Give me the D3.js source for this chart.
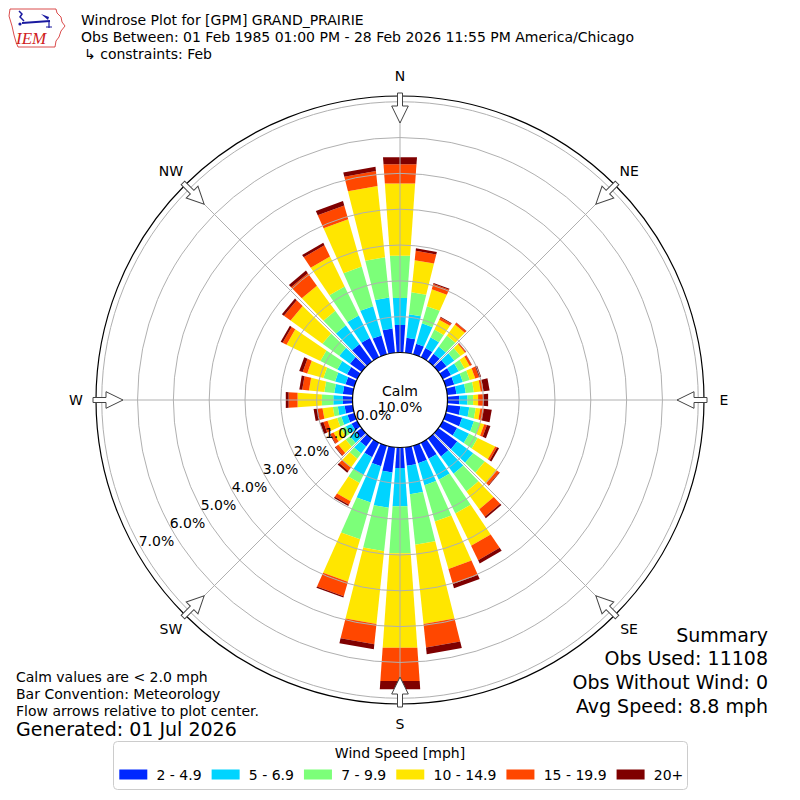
<!DOCTYPE html>
<html>
<head>
<meta charset="utf-8">
<script src="https://cdn.jsdelivr.net/npm/d3@7"></script>
<style>
  body { margin: 0; background: #fff; }
  text { font-family: "DejaVu Sans", sans-serif; fill: #000; }
</style>
</head>
<body>
<div id="windrose"></div>
<script>
// wind directions (degrees, meteorological, "from")
var directions = d3.range(0, 360, 10);
var compassLabels = ["N", "NE", "E", "SE", "S", "SW", "W", "NW"];
var speedLabels = ["2 - 4.9", "5 - 6.9", "7 - 9.9", "10 - 14.9", "15 - 19.9", "20+"];
var speedColors = ["#0028ff", "#00d4ff", "#7cff79", "#ffe600", "#ff4700", "#7f0000"];
var radialTicks = [0, 1, 2, 3, 4, 5, 6, 7];

// frequency (%) of each speed bin, one value per direction (0, 10, ... 350)
var speed2to5 = [0.77, 0.42, 0.31, 0.29, 0.27, 0.28, 0.26, 0.25, 0.26, 0.33, 0.37, 0.48,
                 0.45, 0.65, 0.62, 0.50, 0.51, 0.52, 0.58, 0.71, 0.60, 0.45, 0.28, 0.20,
                 0.18, 0.20, 0.23, 0.27, 0.28, 0.26, 0.32, 0.40, 0.60, 0.60, 0.55, 0.68];
var speed5to7 = [0.76, 0.66, 0.59, 0.33, 0.25, 0.27, 0.24, 0.25, 0.26, 0.23, 0.25, 0.34,
                 0.37, 0.55, 0.60, 0.65, 0.64, 0.80, 1.07, 0.99, 1.05, 0.55, 0.24, 0.20,
                 0.18, 0.18, 0.19, 0.27, 0.24, 0.30, 0.30, 0.37, 0.65, 0.70, 0.85, 0.87];
var speed7to10 = [1.18, 0.62, 0.50, 0.24, 0.38, 0.21, 0.18, 0.20, 0.23, 0.16, 0.18, 0.18,
                  0.27, 0.40, 0.61, 1.05, 1.05, 1.42, 1.31, 1.22, 1.07, 0.25, 0.18, 0.15,
                  0.14, 0.12, 0.14, 0.32, 0.28, 0.34, 0.53, 0.58, 0.50, 0.90, 1.15, 1.13];
var speed10to15 = [2.02, 0.90, 0.49, 0.31, 0.38, 0.16, 0.16, 0.16, 0.19, 0.14, 0.13, 0.12,
                   0.54, 0.42, 0.61, 1.00, 1.38, 2.22, 2.65, 2.04, 1.23, 0.57, 0.30, 0.25,
                   0.24, 0.28, 0.29, 0.68, 0.43, 0.47, 1.05, 1.10, 0.87, 0.93, 1.37, 2.00];
var speed15to20 = [0.54, 0.26, 0.15, 0.07, 0.06, 0.03, 0.06, 0.11, 0.08, 0.14, 0.10, 0.08,
                   0.06, 0.08, 0.26, 0.45, 0.44, 0.66, 0.93, 0.57, 0.42, 0.11, 0.12, 0.10,
                   0.10, 0.12, 0.14, 0.25, 0.19, 0.13, 0.12, 0.23, 0.43, 0.35, 0.40, 0.42];
var speed20up = [0.20, 0.07, 0.03, 0.02, 0.01, 0.01, 0.01, 0.06, 0.17, 0.14, 0.22, 0.10,
                 0.06, 0.02, 0.05, 0.10, 0.12, 0.19, 0.23, 0.14, 0.04, 0.04, 0.06, 0.02,
                 0.02, 0.10, 0.11, 0.08, 0.08, 0.10, 0.06, 0.07, 0.09, 0.08, 0.13, 0.12];

var calmText = "10.0%";
var titleLines = ["Windrose Plot for [GPM] GRAND_PRAIRIE",
                  "Obs Between: 01 Feb 1985 01:00 PM - 28 Feb 2026 11:55 PM America/Chicago",
                  "\u21b3 constraints: Feb"];
var summaryLines = ["Summary", "Obs Used: 11108", "Obs Without Wind: 0", "Avg Speed: 8.8 mph"];
var noteLines = ["Calm values are < 2.0 mph", "Bar Convention: Meteorology",
                 "Flow arrows relative to plot center."];
var generatedText = "Generated: 01 Jul 2026";

var bins = [speed2to5, speed5to7, speed7to10, speed10to15, speed15to20, speed20up];

var width = 800, height = 800;
var cx = 400, cy = 400;

var svg = d3.select('#windrose')
    .append('svg')
        .attr('width', width)
        .attr('height', height)
        .style('background', '#fff');

// table for the stack, one row per direction
var table = directions.map(function(dir, i) {
    var row = {dir: dir};
    bins.forEach(function(b, k) { row['b' + k] = b[i]; });
    return row;
});
var keys = bins.map(function(b, k) { return 'b' + k; });
var series = d3.stack().keys(keys)(table);

var rScale = d3.scaleLinear()
    .domain([0, 7.16])
    .range([47.5, 304]);

var toRad = Math.PI / 180;
var halfOpen = 4 * toRad;   // bars cover 80% of each 10 degree sector

function polar(a, r) {
    return [r * Math.sin(a), -r * Math.cos(a)];
}

var plot = svg.append('g')
    .attr('transform', 'translate(' + cx + ',' + cy + ')');

// bars
var line = d3.line();
plot.selectAll('g.layer')
    .data(series)
    .enter()
    .append('g')
        .attr('class', 'layer')
        .attr('fill', function(d, k) { return speedColors[k]; })
    .selectAll('path')
    .data(function(d) { return d; })
    .enter()
    .append('path')
        .attr('d', function(d) {
            var a = d.data.dir * toRad;
            var r0 = rScale(d[0]), r1 = rScale(d[1]);
            return line([polar(a - halfOpen, r0), polar(a - halfOpen, r1),
                         polar(a + halfOpen, r1), polar(a + halfOpen, r0)]) + 'Z';
        });

// grid rings and spokes, drawn over the bars
plot.selectAll('circle.ring')
    .data(radialTicks.slice(1))
    .enter()
    .append('circle')
        .attr('class', 'ring')
        .attr('r', function(d) { return rScale(d); })
        .attr('fill', 'none')
        .attr('stroke', '#b0b0b0')
        .attr('stroke-width', 1);

plot.selectAll('line.spoke')
    .data(d3.range(0, 360, 45))
    .enter()
    .append('line')
        .attr('class', 'spoke')
        .attr('x1', function(d) { return polar(d * toRad, rScale(0))[0]; })
        .attr('y1', function(d) { return polar(d * toRad, rScale(0))[1]; })
        .attr('x2', function(d) { return polar(d * toRad, rScale.range()[1])[0]; })
        .attr('y2', function(d) { return polar(d * toRad, rScale.range()[1])[1]; })
        .attr('stroke', '#b0b0b0')
        .attr('stroke-width', 1);

// outer frame
plot.append('circle')
    .attr('r', rScale.range()[1])
    .attr('fill', 'none')
    .attr('stroke', '#000')
    .attr('stroke-width', 1.2);

// calm circle
plot.append('circle')
    .attr('r', rScale(0))
    .attr('fill', '#fff')
    .attr('stroke', '#000')
    .attr('stroke-width', 1.2);

plot.append('text')
    .attr('y', -9)
    .attr('text-anchor', 'middle')
    .attr('dominant-baseline', 'central')
    .style('font-size', '14px')
    .text('Calm');
plot.append('text')
    .attr('y', 7)
    .attr('text-anchor', 'middle')
    .attr('dominant-baseline', 'central')
    .style('font-size', '14px')
    .text(calmText);

// radial labels along the 210 degree line
plot.selectAll('text.rlabel')
    .data(radialTicks)
    .enter()
    .append('text')
        .attr('class', 'rlabel')
        .attr('x', function(d) { return -(rScale(d) - 17) * Math.cos(30 * toRad); })
        .attr('y', function(d) { return (rScale(d) - 17) * Math.sin(30 * toRad); })
        .attr('text-anchor', 'middle')
        .attr('dominant-baseline', 'central')
        .style('font-size', '14px')
        .text(function(d) { return d3.format('.1f')(d) + '%'; });

// flow arrows at the rim, pointing at the center
var arrowPts = [[-2.5, -307], [-2.5, -294], [-8.3, -294], [0, -277],
                [8.3, -294], [2.5, -294], [2.5, -307]];
plot.selectAll('polygon.arrow')
    .data(d3.range(0, 360, 45))
    .enter()
    .append('polygon')
        .attr('class', 'arrow')
        .attr('transform', function(d) { return 'rotate(' + d + ')'; })
        .attr('points', arrowPts.map(function(p) { return p.join(','); }).join(' '))
        .attr('fill', '#fff')
        .attr('stroke', '#444')
        .attr('stroke-width', 1);

// compass labels
plot.selectAll('text.compass')
    .data(compassLabels)
    .enter()
    .append('text')
        .attr('class', 'compass')
        .attr('x', function(d, i) { return polar(i * 45 * toRad, 324)[0]; })
        .attr('y', function(d, i) { return polar(i * 45 * toRad, 324)[1]; })
        .attr('text-anchor', 'middle')
        .attr('dominant-baseline', 'central')
        .style('font-size', '14px')
        .text(function(d) { return d; });

// logo
var logo = svg.append('g');
logo.append('path')
    .attr('d', 'M10,9 L56,9 L57,13 L61,17 L62,22 L65,26 L61,31 L59,37 L56,41 L55,47 L18,47 L16,42 L14,35 L12,26 L9,16 Z')
    .attr('fill', 'none')
    .attr('stroke', '#d02020')
    .attr('stroke-width', 0.8);
logo.append('line')
    .attr('x1', 22).attr('y1', 23).attr('x2', 50).attr('y2', 21)
    .attr('stroke', '#1a1aa0').attr('stroke-width', 2);
logo.append('path')
    .attr('d', 'M19,11 L22,14 L20,17 L24,21')
    .attr('fill', 'none').attr('stroke', '#1a1aa0').attr('stroke-width', 1.5);
logo.append('path')
    .attr('d', 'M41,14 L49,17 L48,20 Z')
    .attr('fill', '#1a1aa0');
logo.append('path')
    .attr('d', 'M49,21 L49,28 M46,27 L52,27')
    .attr('fill', 'none').attr('stroke', '#1a1aa0').attr('stroke-width', 1.2);
logo.append('circle').attr('cx', 20).attr('cy', 24).attr('r', 1.6).attr('fill', '#1a1aa0');
logo.append('text')
    .attr('x', 16).attr('y', 44)
    .style('font-family', '"Liberation Serif", serif')
    .style('font-style', 'italic')
    .style('font-size', '17px')
    .style('fill', '#d02020')
    .text('IEM');

// title
svg.selectAll('text.title')
    .data(titleLines)
    .enter()
    .append('text')
        .attr('class', 'title')
        .attr('x', function(d, i) { return i === 2 ? 84 : 81; })
        .attr('y', function(d, i) { return 25 + i * 17; })
        .style('font-size', '14px')
        .text(function(d) { return d; });

// summary
svg.selectAll('text.summary')
    .data(summaryLines)
    .enter()
    .append('text')
        .attr('class', 'summary')
        .attr('x', 768)
        .attr('y', function(d, i) { return 641.5 + i * 23.7; })
        .attr('text-anchor', 'end')
        .style('font-size', '19px')
        .text(function(d) { return d; });

// notes
svg.selectAll('text.note')
    .data(noteLines)
    .enter()
    .append('text')
        .attr('class', 'note')
        .attr('x', 16)
        .attr('y', function(d, i) { return 682 + i * 16.8; })
        .style('font-size', '14px')
        .text(function(d) { return d; });
svg.append('text')
    .attr('x', 16)
    .attr('y', 735.5)
    .style('font-size', '19px')
    .text(generatedText);

// legend
var legend = svg.append('g');
legend.append('rect')
    .attr('x', 113.5).attr('y', 741.5)
    .attr('width', 574).attr('height', 48)
    .attr('rx', 4)
    .attr('fill', '#fff')
    .attr('stroke', '#cccccc')
    .attr('stroke-width', 1);
legend.append('text')
    .attr('x', 400).attr('y', 753)
    .attr('text-anchor', 'middle')
    .attr('dominant-baseline', 'central')
    .style('font-size', '14px')
    .text('Wind Speed [mph]');

var xPos = 119.3;
speedLabels.forEach(function(label, k) {
    legend.append('rect')
        .attr('x', xPos).attr('y', 769.5)
        .attr('width', 28).attr('height', 10)
        .attr('fill', speedColors[k]);
    var t = legend.append('text')
        .attr('x', xPos + 37.2).attr('y', 774.5)
        .attr('dominant-baseline', 'central')
        .style('font-size', '14px')
        .text(label);
    xPos += 37.2 + t.node().getComputedTextLength() + 10;
});
</script>
</body>
</html>
